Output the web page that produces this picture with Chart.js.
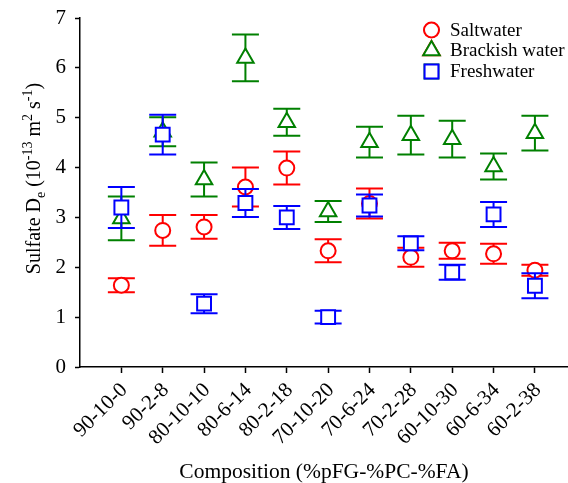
<!DOCTYPE html>
<html>
<head>
<meta charset="utf-8">
<script src="https://cdn.jsdelivr.net/npm/chart.js@4.4.0/dist/chart.umd.min.js"></script>
<style>
  html, body { margin: 0; padding: 0; background: #fff; overflow: hidden; }
  #chart { display: block; }
</style>
</head>
<body>
<canvas id="chart" width="568" height="483"></canvas>
<script>
const categories = ['90-10-0', '90-2-8', '80-10-10', '80-6-14', '80-2-18', '70-10-20', '70-6-24', '70-2-28', '60-10-30', '60-6-34', '60-2-38'];

const saltwater = [1.64, 2.74, 2.81, 3.61, 3.99, 2.33, 3.28, 2.20, 2.33, 2.27, 1.94];
const saltwaterErr = [0.14, 0.31, 0.24, 0.39, 0.33, 0.23, 0.30, 0.19, 0.16, 0.20, 0.11];

const brackish = [2.98, 4.72, 3.76, 6.20, 4.91, 3.12, 4.51, 4.65, 4.57, 4.02, 4.69];
const brackishErr = [0.44, 0.29, 0.34, 0.47, 0.27, 0.21, 0.31, 0.39, 0.37, 0.26, 0.35];

const freshwater = [3.20, 4.66, 1.27, 3.29, 3.00, 1.00, 3.24, 2.48, 1.90, 3.06, 1.63];
const freshwaterErr = [0.41, 0.40, 0.19, 0.28, 0.23, 0.13, 0.22, 0.14, 0.15, 0.25, 0.25];

const yTicks = [0, 1, 2, 3, 4, 5, 6, 7];

const FONT = '"Liberation Serif", "Times New Roman", serif';

function toPoints(values) {
  return values.map((v, i) => ({ x: i + 1, y: v }));
}

function makeDataset(label, values, errs, color, style, radius, order) {
  return {
    label,
    data: toPoints(values),
    errors: errs,
    borderColor: color,
    backgroundColor: '#ffffff',
    borderWidth: 2,
    pointStyle: style,
    pointRadius: radius,
    pointHoverRadius: radius,
    showLine: false,
    order
  };
}

// error bars go under each dataset's hollow markers
const errorBars = {
  id: 'errorBars',
  beforeDatasetDraw(chart, args) {
    const ds = chart.data.datasets[args.index];
    const { x, y } = chart.scales;
    const ctx = chart.ctx;
    const half = 13.5;
    ctx.save();
    ctx.strokeStyle = ds.borderColor;
    ctx.lineWidth = 2;
    ds.data.forEach((p, i) => {
      const px = x.getPixelForValue(p.x);
      const top = y.getPixelForValue(p.y + ds.errors[i]);
      const bot = y.getPixelForValue(p.y - ds.errors[i]);
      ctx.beginPath();
      ctx.moveTo(px, top);
      ctx.lineTo(px, bot);
      ctx.moveTo(px - half, top);
      ctx.lineTo(px + half, top);
      ctx.moveTo(px - half, bot);
      ctx.lineTo(px + half, bot);
      ctx.stroke();
    });
    ctx.restore();
  }
};

// legend in the top right corner, in dataset order
const cornerLegend = {
  id: 'cornerLegend',
  afterDraw(chart) {
    const ctx = chart.ctx;
    const rows = [30, 50.5, 71.5];
    ctx.save();
    chart.data.datasets.forEach((ds, i) => {
      Chart.helpers.drawPoint(ctx, {
        pointStyle: ds.pointStyle,
        radius: ds.pointRadius,
        rotation: 0,
        borderWidth: 2
      }, 431.5, rows[i]);
      ctx.fillStyle = '#ffffff';
      ctx.strokeStyle = ds.borderColor;
      ctx.lineWidth = 2;
      ctx.fill();
      ctx.stroke();
      ctx.fillStyle = '#000000';
      ctx.font = '19px ' + FONT;
      ctx.textBaseline = 'middle';
      ctx.textAlign = 'left';
      ctx.fillText(ds.label, 450, rows[i] + 1);
    });
    ctx.restore();
  }
};

// rotated y title with subscript and superscripts
const yTitle = {
  id: 'yTitle',
  afterDraw(chart) {
    const ctx = chart.ctx;
    const parts = [
      { t: 'Sulfate D', s: 20, dy: 0 },
      { t: 'e', s: 14, dy: 5 },
      { t: ' (10', s: 20, dy: 0 },
      { t: '-13', s: 14, dy: -8 },
      { t: ' m', s: 20, dy: 0 },
      { t: '2', s: 14, dy: -8 },
      { t: ' s', s: 20, dy: 0 },
      { t: '-1', s: 14, dy: -8 },
      { t: ')', s: 20, dy: 0 }
    ];
    ctx.save();
    let total = 0;
    parts.forEach(p => {
      ctx.font = p.s + 'px ' + FONT;
      p.w = ctx.measureText(p.t).width;
      total += p.w;
    });
    ctx.translate(39.5, 178.5);
    ctx.rotate(-Math.PI / 2);
    ctx.fillStyle = '#000000';
    ctx.textBaseline = 'alphabetic';
    ctx.textAlign = 'left';
    let cx = -total / 2;
    parts.forEach(p => {
      ctx.font = p.s + 'px ' + FONT;
      ctx.fillText(p.t, cx, p.dy);
      cx += p.w;
    });
    ctx.restore();
  }
};

const ctx = document.getElementById('chart');

new Chart(ctx, {
  type: 'scatter',
  data: {
    datasets: [
      makeDataset('Saltwater', saltwater, saltwaterErr, '#ff0000', 'circle', 7.5, 3),
      makeDataset('Brackish water', brackish, brackishErr, '#008000', 'triangle', 9.5, 2),
      makeDataset('Freshwater', freshwater, freshwaterErr, '#0000ff', 'rect', 9.8, 1)
    ]
  },
  options: {
    responsive: false,
    animation: false,
    devicePixelRatio: 1,
    events: [],
    layout: { autoPadding: false, padding: { top: 18, right: 0, left: 0, bottom: 0 } },
    plugins: {
      legend: { display: false },
      tooltip: { enabled: false }
    },
    scales: {
      x: {
        type: 'linear',
        min: 0,
        max: 11.8,
        afterBuildTicks: scale => {
          scale.ticks = categories.map((c, i) => ({ value: i + 1 }));
        },
        afterFit: scale => {
          scale.height = 116;
          scale.paddingLeft = 0;
          scale.paddingRight = 0;
        },
        ticks: {
          autoSkip: false,
          minRotation: 45,
          maxRotation: 45,
          padding: 5,
          labelOffset: 3,
          color: '#000000',
          font: { family: FONT, size: 21 },
          callback: v => categories[v - 1]
        },
        grid: {
          drawOnChartArea: false,
          drawTicks: true,
          tickLength: 6,
          tickWidth: 1.5,
          tickColor: '#000000'
        },
        border: { display: true, color: '#000000', width: 1.5 },
        title: {
          display: true,
          text: 'Composition (%pFG-%PC-%FA)',
          color: '#000000',
          font: { family: FONT, size: 21.5, lineHeight: 1 },
          padding: { top: 0, bottom: 0 }
        }
      },
      y: {
        min: 0,
        max: 7,
        afterBuildTicks: scale => {
          scale.ticks = yTicks.map(v => ({ value: v }));
        },
        afterFit: scale => {
          scale.width = 80;
          scale.paddingTop = 0;
          scale.paddingBottom = 0;
        },
        ticks: {
          padding: 9,
          color: '#000000',
          font: { family: FONT, size: 21 }
        },
        grid: {
          drawOnChartArea: false,
          drawTicks: true,
          tickLength: 5,
          tickWidth: 1.5,
          tickColor: '#000000'
        },
        border: { display: true, color: '#000000', width: 1.5 }
      }
    }
  },
  plugins: [errorBars, cornerLegend, yTitle]
});
</script>
</body>
</html>
